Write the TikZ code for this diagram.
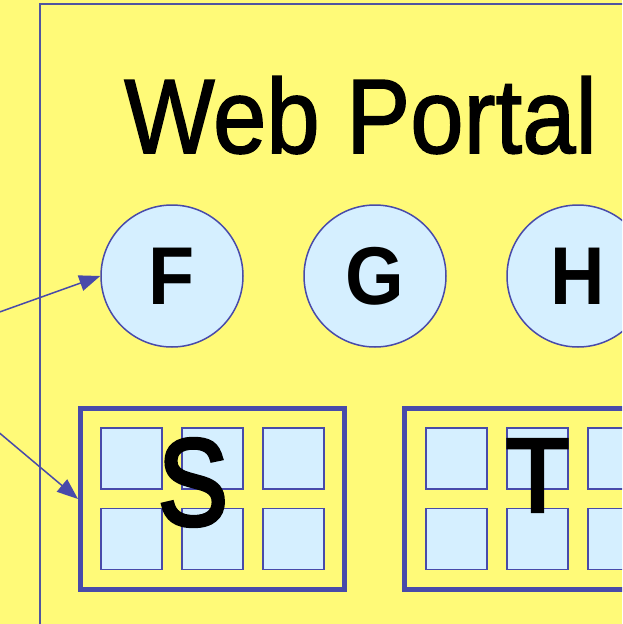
\documentclass[tikz,border=0pt]{standalone}
\usepackage{fontspec}
\setmainfont{Liberation Sans}
\newfontfamily\titlefont[FakeBold=1.5]{Liberation Sans}
\newfontfamily\semibold[FakeBold=3.5]{Liberation Sans}
\usetikzlibrary{arrows.meta}
\definecolor{bgyellow}{RGB}{255,250,120}
\definecolor{lblue}{RGB}{213,239,255}
\definecolor{dblue}{RGB}{72,74,170}
\definecolor{framec}{RGB}{80,84,160}
\tikzset{
  portalcircle/.style={circle, draw=dblue, fill=lblue, line width=1.5pt, minimum size=142pt, inner sep=0pt,
    font=\bfseries\fontsize{82}{82}\selectfont},
  cell/.style={rectangle, draw=dblue, fill=lblue, line width=1.5pt, minimum size=61pt, inner sep=0pt},
  groupbox/.style={rectangle, draw=dblue, line width=5pt, minimum width=264pt, minimum height=181pt, inner sep=0pt},
  bigletter/.style={inner sep=0pt, text=black},
  arr/.style={draw=dblue, line width=1.5pt, -{Triangle[length=21pt,width=16pt]}},
}
\begin{document}
\begin{tikzpicture}[x=1pt,y=-1pt]
\useasboundingbox (0,0) rectangle (622,624);
\clip (0,0) rectangle (622,624);
\fill[bgyellow] (0,0) rectangle (622,624);
% outer frame
\draw[framec, line width=2pt] (39.5,700) -- (39.5,3.5) -- (700,3.5);
% title
\node[anchor=base west, inner sep=0pt, font=\titlefont\fontsize{106}{106}\selectfont] (title) at (124,153)
  {\scalebox{0.905}[1]{Web Portal}};
% circles
\node[portalcircle] (F) at (172,276) {\scalebox{0.92}[1]{F}};
\node[portalcircle] (G) at (375,276) {\scalebox{0.92}[1]{G}};
\node[portalcircle] (H) at (578,276) {\scalebox{0.92}[1]{H}};
% group boxes
\node[groupbox] (S) at (212.5,499) {};
\node[groupbox] (T) at (536.8,499) {};
% cells
\foreach \i/\x in {1/131.5,2/212.5,3/293.5}{
  \node[cell] (S\i a) at (\x,458.5) {};
  \node[cell] (S\i b) at (\x,539) {};
}
\foreach \i/\x in {1/456.3,2/537.3,3/618.3}{
  \node[cell] (T\i a) at (\x,458.5) {};
  \node[cell] (T\i b) at (\x,539) {};
}
\node[bigletter, font=\semibold\fontsize{123}{123}\selectfont] (Slabel) at (193,482.5) {\scalebox{0.85}[1]{S}};
\node[bigletter, font=\semibold\fontsize{104}{104}\selectfont] (Tlabel) at (537.5,475.5) {T};
% arrows
\coordinate (a1) at (-20,319);
\coordinate (a2) at (-10,425);
\draw[arr] (a1) -- (F.west);
\draw[arr] (a2) -- (S.west);
\end{tikzpicture}
\end{document}
